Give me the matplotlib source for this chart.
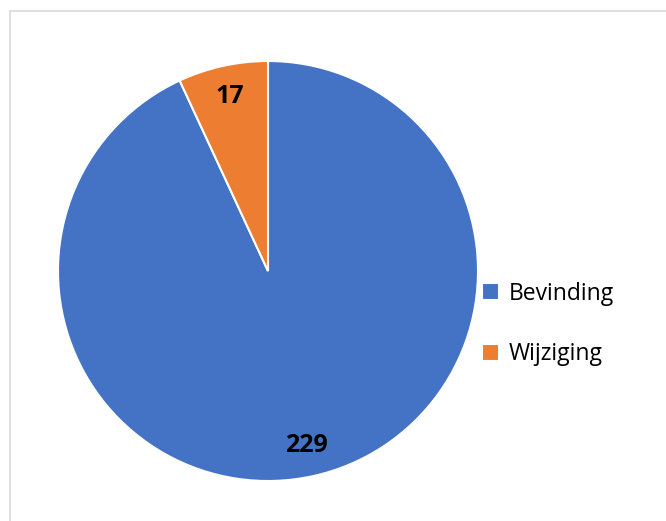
import matplotlib.pyplot as plt
from matplotlib.patches import Rectangle

# data
categories = ["Bevinding", "Wijziging"]
values = [229, 17]
colors = ["#4472C4", "#ED7D31"]

plt.rcParams['font.family'] = ['Open Sans', 'DejaVu Sans']

W, H = 666, 521
fig = plt.figure(figsize=(W / 100, H / 100), dpi=100)

# light frame (only left/top edges visible, as in the reference)
fig.patches.append(Rectangle((10 / W, -0.1), 1.2, (H - 11) / H + 0.1,
                             transform=fig.transFigure, fill=False,
                             edgecolor="#D9D9D9", linewidth=1.2))

ax = fig.add_axes([58 / W, 40 / H, 420 / W, 420 / H])
wedges, texts = ax.pie(values, colors=colors, startangle=90, counterclock=False,
                       labels=[str(v) for v in values], labeldistance=0.85,
                       wedgeprops=dict(edgecolor="white", linewidth=1.5))
for t in texts:
    t.set_ha("center")
    t.set_va("center")
    t.set_fontsize(18)
    t.set_fontweight("bold")
    t.set_color("black")
ax.set_xlim(-1, 1)
ax.set_ylim(-1, 1)
ax.set_aspect("equal")

fig.legend(wedges, categories, loc="center left", bbox_to_anchor=(461 / W, 1 - 324 / H),
           frameon=False, fontsize=16.5, handlelength=0.75, handleheight=0.75,
           handletextpad=0.45, labelspacing=1.6)

fig.savefig("out.png", dpi=100)
